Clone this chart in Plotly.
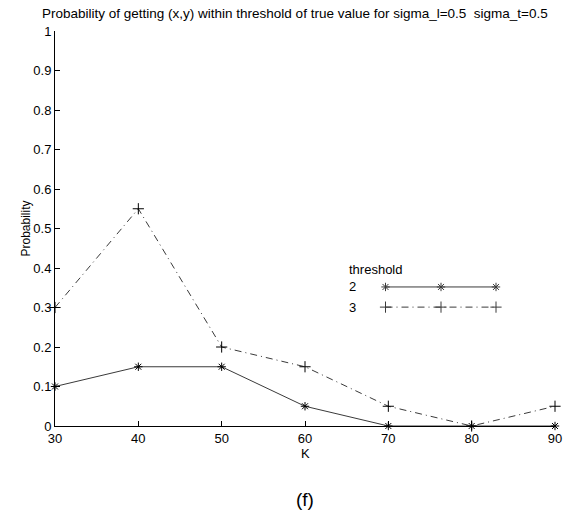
import plotly.graph_objects as go

# K values and probabilities for each threshold
k_values = [30, 40, 50, 60, 70, 80, 90]
prob_thr2 = [0.10, 0.15, 0.15, 0.05, 0.0, 0.0, 0.0]
prob_thr3 = [0.30, 0.55, 0.20, 0.15, 0.05, 0.0, 0.05]
y_ticks = [0, 0.1, 0.2, 0.3, 0.4, 0.5, 0.6, 0.7, 0.8, 0.9, 1]
x_ticks = [30, 40, 50, 60, 70, 80, 90]

FONT = "Liberation Sans, Arial, sans-serif"
LINE = "#3a3a3a"
DASHDOT = "7px,4px,1px,4px"

fig = go.Figure()

fig.add_trace(go.Scatter(
    x=k_values, y=prob_thr2, mode="lines+markers", name="2",
    line=dict(color=LINE, width=1, dash="solid"),
    marker=dict(symbol="asterisk-open", size=7, color="black",
                line=dict(color="black", width=1)),
    showlegend=False, cliponaxis=False,
))
fig.add_trace(go.Scatter(
    x=k_values, y=prob_thr3, mode="lines+markers", name="3",
    line=dict(color=LINE, width=1, dash=DASHDOT),
    marker=dict(symbol="cross-thin-open", size=8, color="black",
                line=dict(color="black", width=1)),
    showlegend=False, cliponaxis=False,
))

# Hand-drawn legend on an overlay axis in paper units
leg_x = [0.661, 0.772, 0.882]
fig.add_trace(go.Scatter(
    x=leg_x, y=[0.352] * 3, xaxis="x2", yaxis="y2", mode="lines+markers",
    line=dict(color=LINE, width=1, dash="solid"),
    marker=dict(symbol="asterisk-open", size=7, line=dict(color="black", width=1)),
    showlegend=False, hoverinfo="skip",
))
fig.add_trace(go.Scatter(
    x=leg_x, y=[0.301] * 3, xaxis="x2", yaxis="y2", mode="lines+markers",
    line=dict(color=LINE, width=1, dash=DASHDOT),
    marker=dict(symbol="cross-thin-open", size=8, line=dict(color="black", width=1)),
    showlegend=False, hoverinfo="skip",
))

annotations = [
    dict(text="threshold", x=0.584, y=0.397, xref="paper", yref="paper",
         xanchor="left", yanchor="middle", showarrow=False,
         font=dict(family=FONT, size=13, color="black")),
    dict(text="2", x=0.584, y=0.352, xref="paper", yref="paper",
         xanchor="left", yanchor="middle", showarrow=False,
         font=dict(family=FONT, size=13, color="black")),
    dict(text="3", x=0.584, y=0.301, xref="paper", yref="paper",
         xanchor="left", yanchor="middle", showarrow=False,
         font=dict(family=FONT, size=13, color="black")),
    dict(text="Probability of getting (x,y) within threshold of true value for sigma_l=0.5  sigma_t=0.5",
         x=0.5, y=1.0, xref="paper", yref="paper", yshift=18, xshift=-10,
         xanchor="center", yanchor="middle", showarrow=False,
         font=dict(family=FONT, size=13.5, color="black")),
    dict(text="K", x=0.5, y=0, xref="paper", yref="paper", yshift=-27,
         xanchor="center", yanchor="middle", showarrow=False,
         font=dict(family=FONT, size=13, color="black")),
    dict(text="Probability", x=0, y=0.5, xref="paper", yref="paper", xshift=-30,
         xanchor="center", yanchor="middle", showarrow=False, textangle=-90,
         font=dict(family=FONT, size=12, color="black")),
    dict(text="(f)", x=0.5, y=0, xref="paper", yref="paper", yshift=-73,
         xanchor="center", yanchor="middle", showarrow=False,
         font=dict(family=FONT, size=19, color="black")),
]

fig.update_layout(
    width=574, height=513,
    margin=dict(l=55, r=17, t=31, b=87),
    paper_bgcolor="white", plot_bgcolor="white",
    font=dict(family=FONT, size=13, color="black"),
    xaxis=dict(range=[30, 90], tickvals=x_ticks, ticks="inside", ticklen=5,
               tickcolor="black", showline=True, linecolor="black", linewidth=1,
               showgrid=False, zeroline=False, mirror=False, fixedrange=True,
               tickfont=dict(size=13)),
    yaxis=dict(range=[0, 1], tickvals=y_ticks, ticktext=[("%g" % v) for v in y_ticks],
               ticks="inside", ticklen=5, tickcolor="black", showline=True,
               linecolor="black", linewidth=1, showgrid=False, zeroline=False,
               fixedrange=True, tickfont=dict(size=13)),
    xaxis2=dict(range=[0, 1], domain=[0, 1], overlaying="x", visible=False,
                fixedrange=True),
    yaxis2=dict(range=[0, 1], domain=[0, 1], overlaying="y", visible=False,
                fixedrange=True),
    annotations=annotations,
    showlegend=False,
)

fig.write_html("out.html")
